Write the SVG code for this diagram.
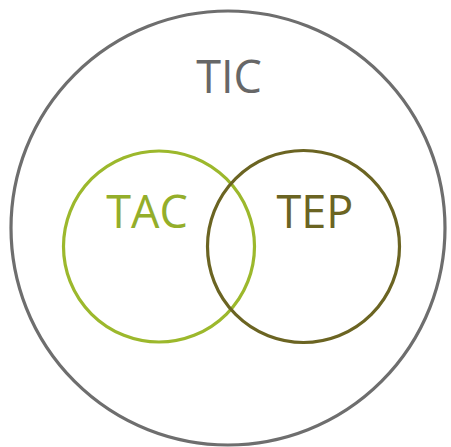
<svg xmlns="http://www.w3.org/2000/svg" width="451" height="447" viewBox="0 0 451 447">
<style>
.lbl{font-family:"Open Sans","Liberation Sans",sans-serif;font-size:45px;text-anchor:middle}
.ring{fill:none;stroke-width:3.2}
</style>
<rect width="451" height="447" fill="#ffffff"/>
<g id="tic">
<circle class="ring" cx="228" cy="228" r="217" stroke="#6e6e6e"/>
<text class="lbl" x="229" y="93" fill="#676767">TIC</text>
</g>
<g id="tac">
<circle class="ring" cx="159" cy="246.5" r="95.5" stroke="#9cb82c"/>
<text class="lbl" x="147" y="228" fill="#94ae2a">TAC</text>
</g>
<g id="tep">
<circle class="ring" cx="303.5" cy="246.5" r="96" stroke="#6b6422"/>
<text class="lbl" x="315" y="228" fill="#6b6422">TEP</text>
</g>
<g id="connectors"></g>
</svg>
